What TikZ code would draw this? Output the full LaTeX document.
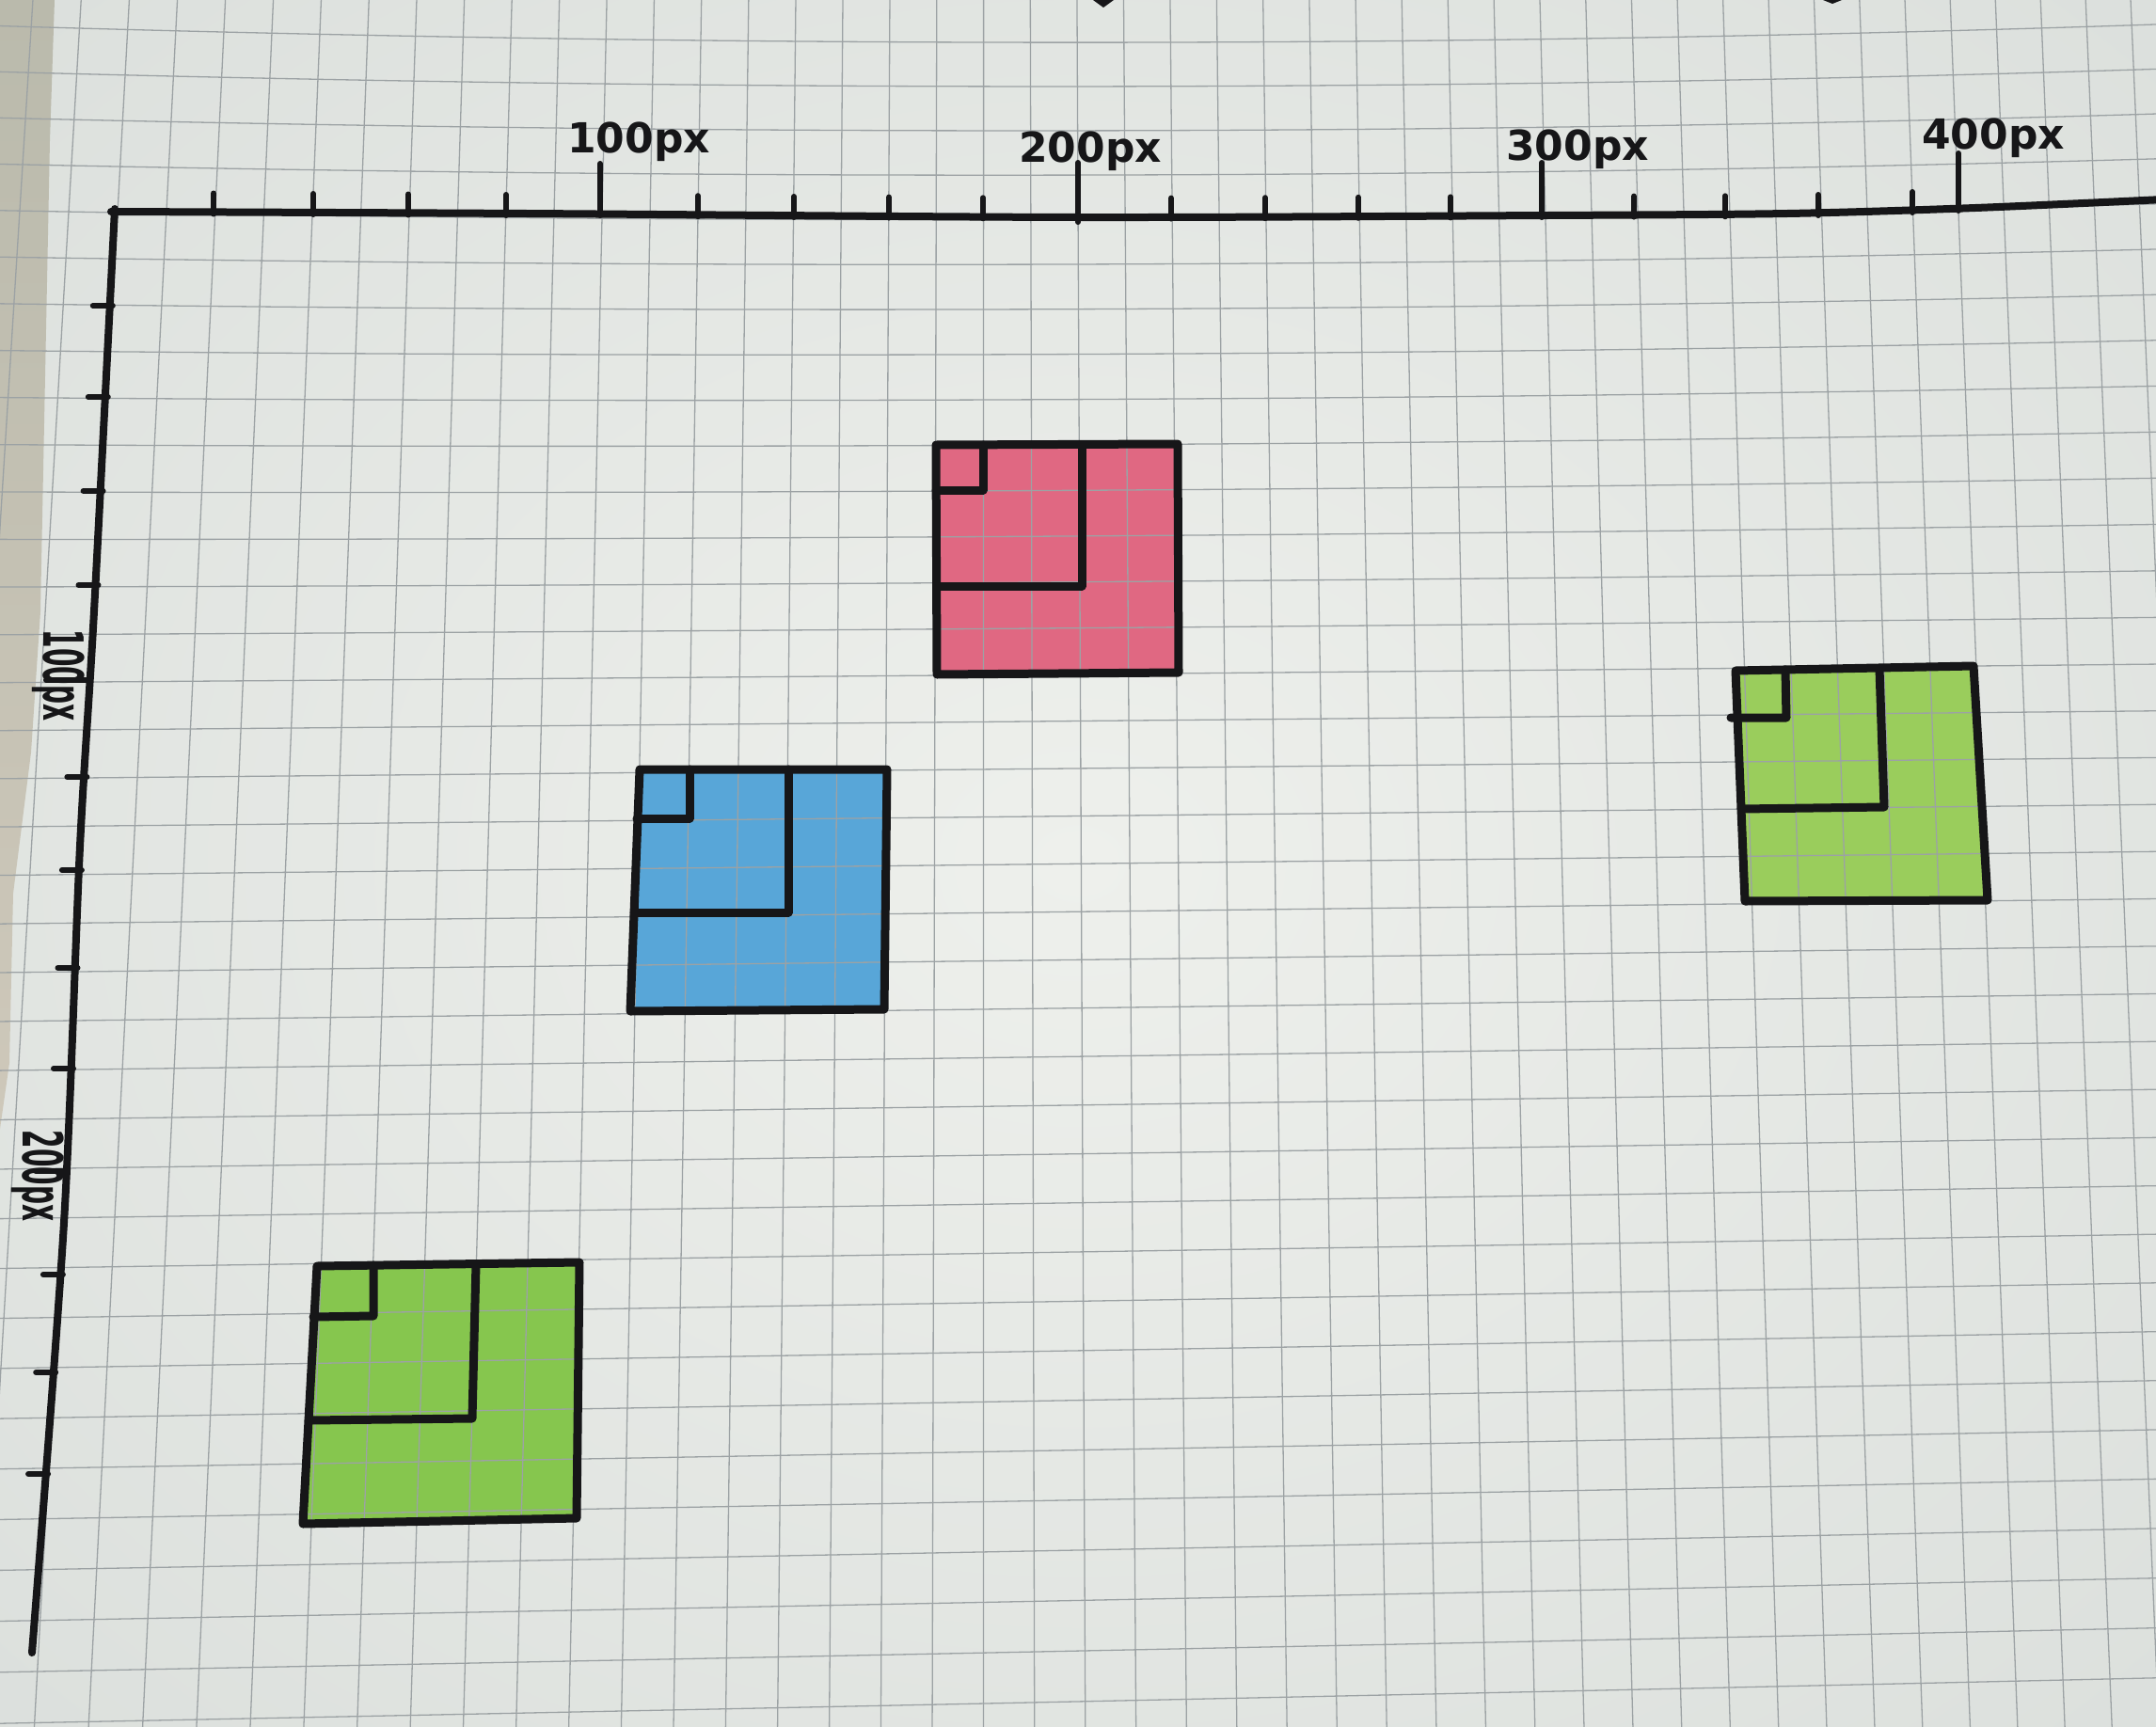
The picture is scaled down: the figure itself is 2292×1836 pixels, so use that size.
\documentclass[tikz,border=0pt]{standalone}
\usepackage{fontspec}
\newfontfamily\hand{DejaVu Sans}
\definecolor{paperin}{RGB}{238,240,236}
\definecolor{paperout}{RGB}{212,217,214}
\definecolor{gridcol}{RGB}{156,162,164}
\definecolor{inkcol}{RGB}{22,22,24}
\definecolor{tabletop}{RGB}{186,186,172}
\definecolor{tablebot}{RGB}{206,200,186}
\definecolor{redfill}{RGB}{224,104,130}
\definecolor{bluefill}{RGB}{88,166,216}
\definecolor{greenR}{RGB}{154,205,92}
\definecolor{greenL}{RGB}{134,198,78}
\begin{document}
\begin{tikzpicture}[x=1pt,y=-1pt,
  declare function={
    XZ(\p)=125+51.97*\p-0.0459*\p*\p;
    LN(\p)=-0.055+0.0036*\p-0.000035*\p*\p;
    YL(\q)=226+49*\q+0.09*\q*\q;
    RR(\q)=-4-1.3*\q;
    BB(\q)=max(0,9.5-0.9*\q);
    GY(\p,\q)=YL(\q)+RR(\q)*\p/39+4*BB(\q)*(\p/39)*(1-\p/39);
    GX(\p,\q)=XZ(\p)+LN(\p)*(GY(\p,\q)-226);
  },
  gridline/.style={line width=1.3pt, draw=gridcol},
  axisline/.style={line width=8pt, draw=inkcol, line cap=round, line join=round},
  tickline/.style={line width=6pt, draw=inkcol, line cap=round},
  ink/.style={line width=9pt, draw=inkcol, line join=round, line cap=round},
  toplabel/.style={inner sep=0pt, text=inkcol, anchor=base west,
     font=\hand\bfseries\fontsize{44}{44}\selectfont},
  sidelabel/.style={inner sep=0pt, text=inkcol, rotate=-90,
     font=\hand\bfseries\fontsize{28}{28}\selectfont}
]
\useasboundingbox (0,0) rectangle (2292,1836);
\clip (0,0) rectangle (2292,1836);

% paper
\shade[inner color=paperin, outer color=paperout] (-1146,-918) rectangle (3438,2754);

% table strip on the left
\shade[top color=tabletop, bottom color=tablebot]
  (0,0) -- (58,0) -- (53,150) -- (43,650) -- (33,800) -- (14,950) -- (10,1130) -- (0,1200) -- cycle;

% colour fills
\fill[redfill] (995,473) -- (1252,472) -- (1253,715) -- (996,717) -- cycle;
\fill[bluefill] (680,818) -- (943,818) -- (940,1073) -- (670,1075) -- cycle;
\fill[greenR] (1845,713) -- (2098,708) -- (2113,957) -- (1855,958) -- cycle;
\fill[greenL] (337,1346) -- (616,1342) -- (613,1614) -- (322,1620) -- cycle;

% grid of the paper
\foreach \v in {-5,...,32}
  \draw[gridline] plot[domain=-4:46, samples=51] ({GX(\x,\v)},{GY(\x,\v)});
\foreach \u in {-3,...,44}
  \draw[gridline] plot[domain=-6:33, samples=12] ({GX(\u,\x)},{GY(\u,\x)});

% axes
\draw[axisline] plot[smooth] coordinates {(118,225) (560,227) (1146,231) (1645,229) (1900,227) (2100,221) (2300,212)};
\draw[axisline] plot[smooth] coordinates {(122,222) (100,650) (85,900) (68,1300) (34,1757)};

% top ticks
\foreach \xx/\yy in {227/225.5, 333/226, 434/226.5, 538/227, 742/228.2, 844/229, 945/229.6, 1045/230.3,
                     1245/230.6, 1345/230.2, 1444/229.8, 1542/229.4, 1737/228.6, 1834/228.3, 1933/227, 2033/224}
  \draw[tickline] (\xx,\yy+2) -- (\xx,\yy-20);
\draw[tickline] (638,229) -- (638,174);
\draw[tickline] (1146,236) -- (1146,173);
\draw[tickline] (1639,231) -- (1639,173);
\draw[tickline] (2082,224) -- (2082,163);

% left ticks
\foreach \xx/\yy in {116.8/325, 111.8/422, 106.6/522, 101.5/622, 89.4/826, 83.9/925, 79.5/1029, 75/1136,
                     63.9/1355, 56.2/1459, 48.1/1567}
  \draw[tickline] (\xx+3,\yy) -- (\xx-18,\yy);
\draw[tickline] (96,723) -- (49,723);
\draw[tickline] (72,1245) -- (38,1245);

% squares
\draw[ink] (995,473) -- (1252,472) -- (1253,715) -- (996,717) -- cycle;
\draw[ink] (1150,473) -- (1150,623) -- (996,623);
\draw[ink] (1045,473) -- (1045,521) -- (995,521);

\draw[ink] (680,818) -- (943,818) -- (940,1073) -- (670,1075) -- cycle;
\draw[ink] (838,818) -- (838,970) -- (674,970);
\draw[ink] (733,818) -- (733,870) -- (677,870);

\draw[ink] (1845,713) -- (2098,708) -- (2113,957) -- (1855,958) -- cycle;
\draw[ink] (1998,711) -- (2003,858) -- (1851,860);
\draw[ink] (1898,712) -- (1899,763) -- (1840,763);

\draw[ink] (337,1346) -- (616,1342) -- (613,1614) -- (322,1620) -- cycle;
\draw[ink] (506,1344) -- (502,1508) -- (328,1510);
\draw[ink] (397,1345) -- (397,1399) -- (333,1400);

% labels
\node[toplabel] (l100) at (603,162) {100px};
\node[toplabel] (l200) at (1083,172) {200px};
\node[toplabel] (l300) at (1601,170) {300px};
\node[toplabel] (l400) at (2043,158) {400px};
\node[sidelabel] (s100) at (62,718) {\scalebox{1}[2.1]{100px}};
\node[sidelabel] (s200) at (40,1250) {\scalebox{1}[2.1]{200px}};

% pen marks cut by the top edge
\fill[inkcol] (1162,0) -- (1184,0) -- (1173,8) -- cycle;
\fill[inkcol] (1938,0) -- (1958,0) -- (1948,4) -- cycle;
\end{tikzpicture}
\end{document}
